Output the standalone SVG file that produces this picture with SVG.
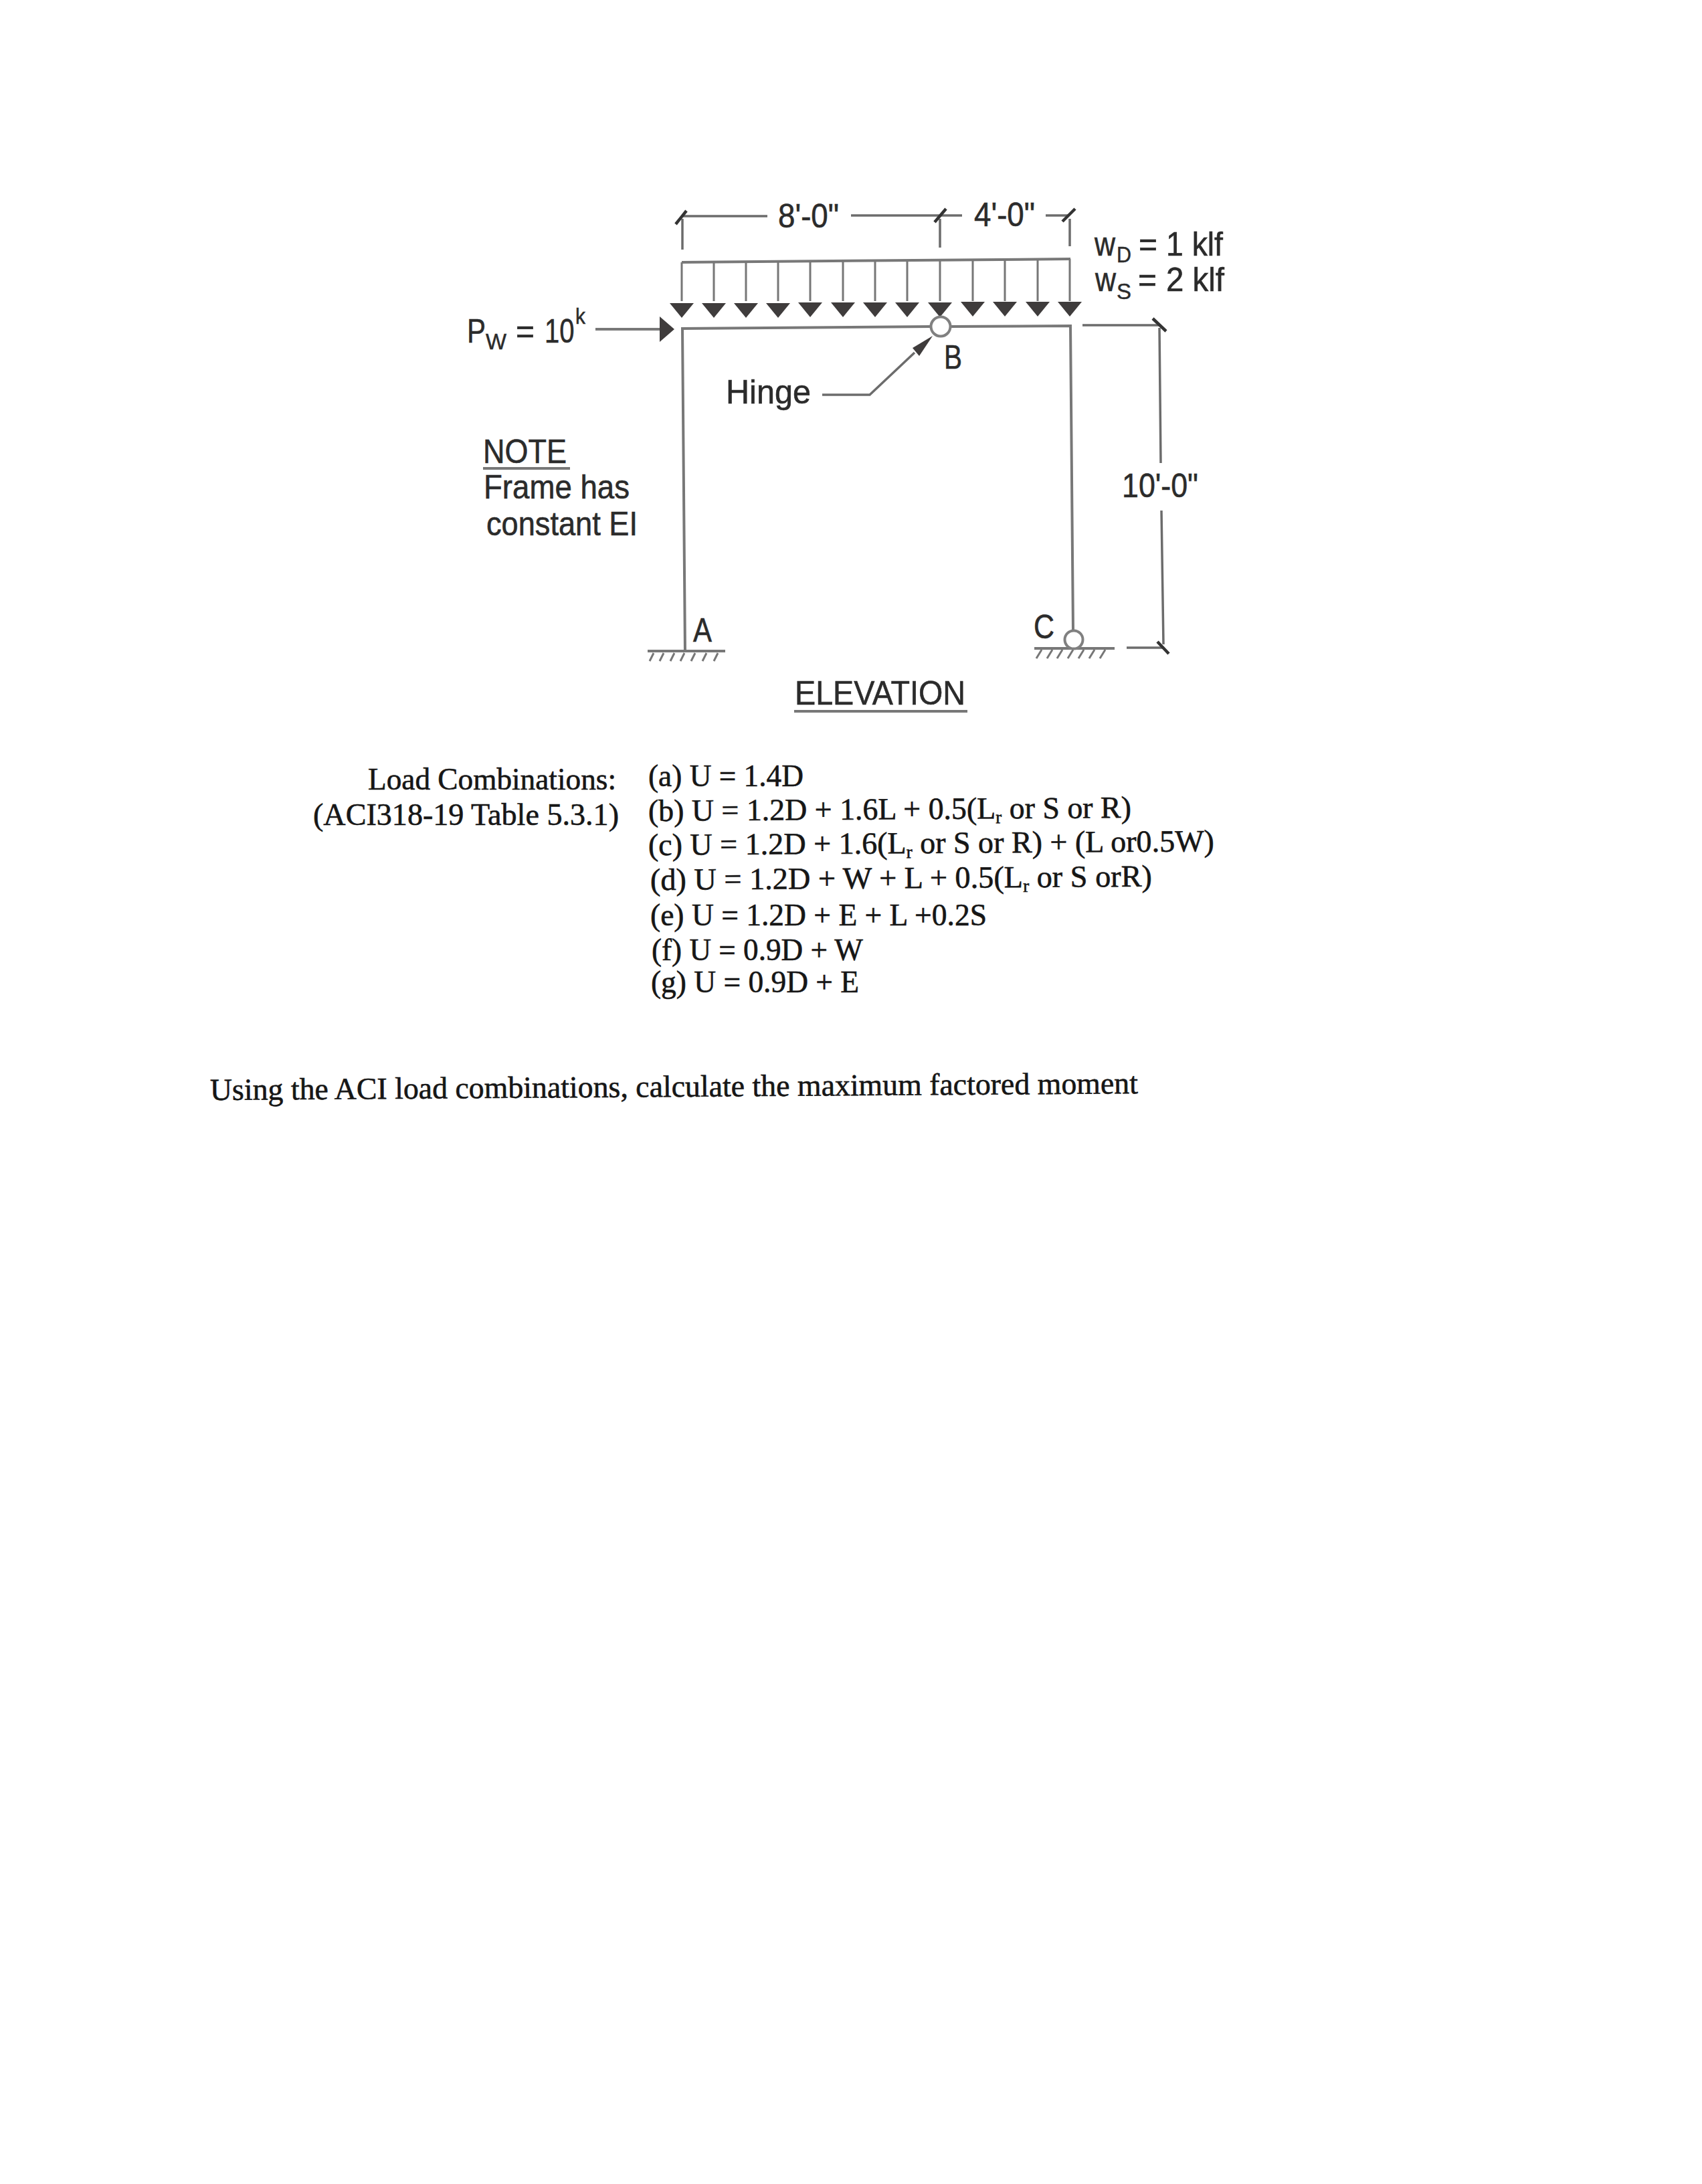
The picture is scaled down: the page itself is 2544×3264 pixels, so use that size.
<svg xmlns="http://www.w3.org/2000/svg" width="2544" height="3264" viewBox="0 0 2544 3264">
<defs>
<style>
.a{font-family:"Liberation Sans",Arial,sans-serif;font-size:50px;fill:#2b2b2b;stroke:#2b2b2b;stroke-width:.6}
.s{font-family:"Liberation Sans",Arial,sans-serif;font-size:34px;fill:#2b2b2b;stroke:#2b2b2b;stroke-width:.5}
.t{font-family:"Liberation Serif","Times New Roman",serif;font-size:46px;fill:#161616;stroke:#161616;stroke-width:.6}
.sub{font-size:27px}
.m{stroke:#787878;stroke-width:4;fill:none}
.d{stroke:#6c6c6c;stroke-width:3.5;fill:none}
.k{stroke:#333;stroke-width:4.5;fill:none}
.h{stroke:#777;stroke-width:3;fill:none}
.f{fill:#3f3c3c;stroke:none}
</style>
<polygon id="head" class="f" points="-18,-21 18,-21 0,1"/>
</defs>
<rect width="2544" height="3264" fill="#fff"/>
<g id="connectors">
<g id="dimension-top">
<path class="d" d="M1020 323H1147M1272 322H1438M1563 322H1597"/>
<path class="d" d="M1020 327V373M1405 327V370M1599 327V368"/>
<path class="k" d="M1010 335L1026 315M1397 332L1414 312M1588 331L1607 312"/>
</g>
<g id="dimension-right">
<path class="d" d="M1618 486H1733M1733 490L1735 692M1736 763L1739 963M1684 968H1737"/>
<path class="k" d="M1723 476L1743 495M1730 959L1747 977"/>
</g>
<g id="distributed-load">
<path class="m" d="M1019 392L1600 387"/>
<path class="h" d="M1019 392V450M1067 391V450M1115 391V450M1163 391V450M1211 390V450M1260 390V450M1308 389V450M1356 389V450M1405 389V450M1454 388V450M1502 388V450M1551 388V450M1599 387V450"/>
<use href="#head" x="1019" y="474"/><use href="#head" x="1067" y="474"/><use href="#head" x="1115" y="474"/><use href="#head" x="1163" y="474"/><use href="#head" x="1211" y="473"/><use href="#head" x="1260" y="473"/><use href="#head" x="1308" y="473"/><use href="#head" x="1356" y="473"/><use href="#head" x="1405" y="473"/><use href="#head" x="1454" y="472"/><use href="#head" x="1502" y="472"/><use href="#head" x="1551" y="472"/><use href="#head" x="1599" y="472"/>
</g>
<g id="wind-arrow">
<path class="m" d="M890 492H988"/>
<polygon class="f" points="986,473 1008,492 986,511"/>
</g>
<g id="hinge-leader">
<path class="d" d="M1229 590H1300L1367 527"/>
<polygon class="f" points="1394,502 1374,532 1364,520"/>
</g>
</g>
<g id="frame">
<path class="m" d="M1024 975L1020 491L1392 488M1420 488L1600 487L1604 943"/>
</g>
<g id="node-A">
<path class="m" d="M968 973H1084"/>
<path class="h" d="M977 976L971 988M992 976L986 988M1008 976L1002 988M1023 976L1017 988M1039 976L1033 988M1056 976L1050 988M1073 976L1067 988"/>
<text class="a" x="1036" y="959" textLength="28" lengthAdjust="spacingAndGlyphs">A</text>
</g>
<g id="node-B">
<circle cx="1406" cy="488" r="14.5" fill="#fff" stroke="#808080" stroke-width="4"/>
<text class="a" x="1411" y="551" textLength="27" lengthAdjust="spacingAndGlyphs">B</text>
</g>
<g id="node-C">
<path class="m" d="M1546 969H1666"/>
<path class="h" d="M1557 971L1549 984M1573 971L1565 984M1588 971L1580 984M1604 971L1596 984M1620 971L1612 984M1636 971L1628 984M1652 971L1644 984"/>
<circle cx="1605" cy="956" r="13.5" fill="#fff" stroke="#808080" stroke-width="4"/>
<text class="a" x="1545" y="954" textLength="31" lengthAdjust="spacingAndGlyphs">C</text>
</g>
<g id="diagram-labels">
<text class="a" x="1163" y="340" textLength="91" lengthAdjust="spacingAndGlyphs">8'-0"</text>
<text class="a" x="1456" y="338" textLength="91" lengthAdjust="spacingAndGlyphs">4'-0"</text>
<text class="a" x="1677" y="743" textLength="114" lengthAdjust="spacingAndGlyphs">10'-0"</text>
<text class="a" x="698" y="512" textLength="28" lengthAdjust="spacingAndGlyphs">P</text><text class="s" x="726" y="522" textLength="31" lengthAdjust="spacingAndGlyphs">W</text>
<text class="a" x="771" y="512" textLength="28" lengthAdjust="spacingAndGlyphs">=</text>
<text class="a" transform="translate(814 512) scale(.8 1)">10</text><text class="s" x="860" y="484" textLength="15" lengthAdjust="spacingAndGlyphs">k</text>
<text class="a" x="1636" y="382" textLength="31" lengthAdjust="spacingAndGlyphs">w</text><text class="s" x="1669" y="392" textLength="22" lengthAdjust="spacingAndGlyphs">D</text>
<text class="a" x="1702" y="382" textLength="28" lengthAdjust="spacingAndGlyphs">=</text>
<text class="a" x="1743" y="382" textLength="85" lengthAdjust="spacingAndGlyphs">1 klf</text>
<text class="a" x="1637" y="435" textLength="31" lengthAdjust="spacingAndGlyphs">w</text><text class="s" x="1669" y="447" textLength="22" lengthAdjust="spacingAndGlyphs">S</text>
<text class="a" x="1701" y="435" textLength="28" lengthAdjust="spacingAndGlyphs">=</text>
<text class="a" x="1743" y="435" textLength="87" lengthAdjust="spacingAndGlyphs">2 klf</text>
<text class="a" x="1085" y="603" textLength="127" lengthAdjust="spacingAndGlyphs">Hinge</text>
<text class="a" x="722" y="692" textLength="125" lengthAdjust="spacingAndGlyphs">NOTE</text>
<path class="m" d="M722 700H852"/>
<text class="a" x="723" y="745" textLength="218" lengthAdjust="spacingAndGlyphs">Frame has</text>
<text class="a" x="727" y="800" textLength="226" lengthAdjust="spacingAndGlyphs">constant EI</text>
<text class="a" x="1188" y="1053" textLength="255" lengthAdjust="spacingAndGlyphs">ELEVATION</text>
<path class="m" d="M1187 1063H1446"/>
</g>
<g id="load-combinations">
<text class="t" x="550" y="1180" textLength="371" lengthAdjust="spacingAndGlyphs">Load Combinations:</text>
<text class="t" x="468" y="1233" textLength="457" lengthAdjust="spacingAndGlyphs">(ACI318-19 Table 5.3.1)</text>
<text class="t" x="969" y="1175" textLength="232" lengthAdjust="spacingAndGlyphs">(a) U = 1.4D</text>
<text class="t" x="969" y="1227" transform="rotate(-.4 969 1227)" textLength="722" lengthAdjust="spacingAndGlyphs">(b) U = 1.2D + 1.6L + 0.5(L<tspan class="sub" dy="7">r</tspan><tspan dy="-7"> or S or R)</tspan></text>
<text class="t" x="969" y="1278" transform="rotate(-.4 969 1278)" textLength="846" lengthAdjust="spacingAndGlyphs">(c) U = 1.2D + 1.6(L<tspan class="sub" dy="7">r</tspan><tspan dy="-7"> or S or R) + (L or0.5W)</tspan></text>
<text class="t" x="972" y="1330" transform="rotate(-.4 972 1330)" textLength="750" lengthAdjust="spacingAndGlyphs">(d) U = 1.2D + W + L + 0.5(L<tspan class="sub" dy="7">r</tspan><tspan dy="-7"> or S orR)</tspan></text>
<text class="t" x="972" y="1383" textLength="503" lengthAdjust="spacingAndGlyphs">(e) U = 1.2D + E + L +0.2S</text>
<text class="t" x="974" y="1435" textLength="316" lengthAdjust="spacingAndGlyphs">(f) U = 0.9D + W</text>
<text class="t" x="973" y="1483" textLength="311" lengthAdjust="spacingAndGlyphs">(g) U = 0.9D + E</text>
</g>
<g id="question">
<text class="t" x="314" y="1644" transform="rotate(-.41 314 1644)" textLength="1387" lengthAdjust="spacingAndGlyphs">Using the ACI load combinations, calculate the maximum factored moment</text>
</g>
</svg>
